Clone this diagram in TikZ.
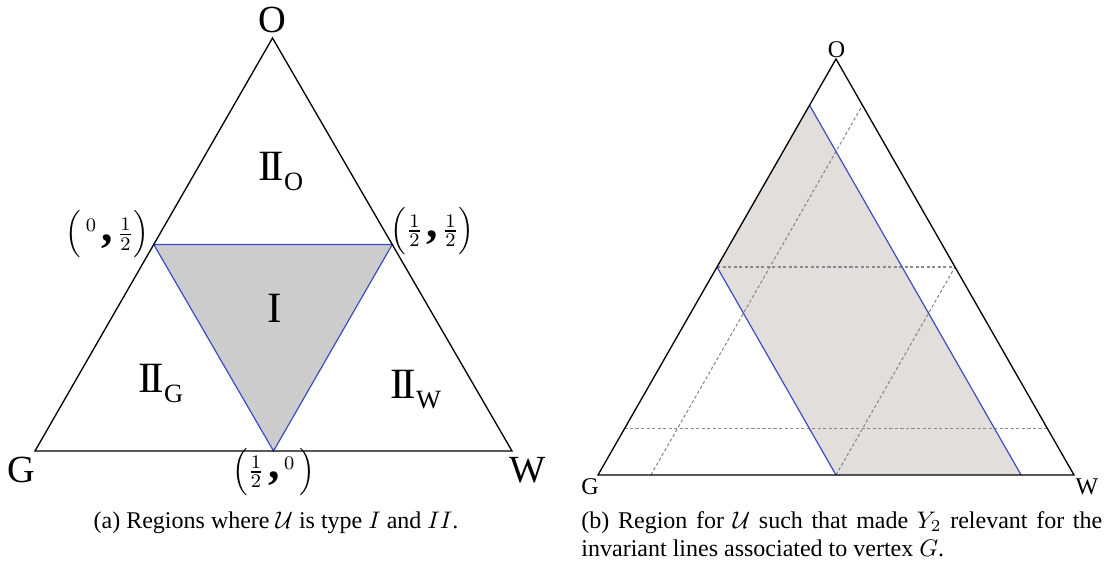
\documentclass[tikz,border=0pt]{standalone}
\usepackage{amsmath}
\usepackage{fontspec}
\setmainfont{Liberation Serif}
\usepackage{xcolor}
\definecolor{edgeblue}{HTML}{3B4CC4}
\definecolor{fillgray}{HTML}{CCCCCC}
\definecolor{fillwarm}{HTML}{E2DEDC}
\definecolor{dashgray}{HTML}{8A8A8A}
\usetikzlibrary{calc}
\tikzset{
  side/.style={line width=0.55pt},
  blueside/.style={draw=edgeblue,line width=0.5pt},
  guide/.style={dashgray,line width=0.45pt,dash pattern=on 1.3pt off 1pt},
  corner/.style={font=\fontsize{16}{16}\selectfont,inner sep=0pt},
  smallcorner/.style={font=\fontsize{10}{12}\selectfont,inner sep=0pt},
  region/.style={font=\fontsize{18}{18}\selectfont,inner sep=0pt,anchor=base west},
  pointlab/.style={font=\fontsize{11}{13}\selectfont,inner sep=0pt},
  capt/.style={font=\fontsize{10}{12}\selectfont,inner sep=0pt}
}
\newcommand\regII[1]{I\kern-.07em I\raisebox{-4.2pt}{\fontsize{11}{11}\selectfont #1}}
\newcommand\bigcomma{\mbox{\fontsize{19}{19}\selectfont\bfseries ,}}
\begin{document}
\begin{tikzpicture}[x=0.41667pt,y=-0.41667pt]
  \useasboundingbox (0,0) rectangle (1104,567);
  % (a) regions I and II
  \coordinate (aG) at (35,451);
  \coordinate (aW) at (512,451);
  \coordinate (aO) at (272.5,38);
  \coordinate (aGO) at ($(aG)!0.5!(aO)$);
  \coordinate (aOW) at ($(aW)!0.5!(aO)$);
  \coordinate (aGW) at ($(aG)!0.5!(aW)$);
  \filldraw[blueside,fill=fillgray] (aGO) -- (aOW) -- (aGW) -- cycle;
  \draw[side] (aG) -- (aW) -- (aO) -- cycle;
  \node[corner] (labaO) at (272.5,19.5) {O};
  \node[corner] (labaG) at (21,470) {G};
  \node[corner] (labaW) at (528,470) {W};
  \node[region] (regO) at (258,180) {\regII{O}};
  \node[region] (regG) at (138,392) {\regII{G}};
  \node[region] (regW) at (390,398) {\regII{W}};
  \node[region,anchor=base] (regI) at (275,322) {I};
  \node[pointlab] (ptGO) at (107.5,234.5) {$\Bigl(\,{}^{0}\,\bigcomma\,\tfrac{1}{2}\Bigr)$};
  \node[pointlab] (ptOW) at (432.5,231) {$\Bigl(\tfrac{1}{2}\,\bigcomma\,\tfrac{1}{2}\Bigr)$};
  \node[pointlab] (ptGW) at (274,472) {$\Bigl(\tfrac{1}{2}\,\bigcomma\,{}^{0}\,\Bigr)$};
  \node[capt,anchor=base] (capa) at (276,528) {(a) Regions where $\mathcal{U}$ is type $I$ and $II$.};
  % (b) region for Y2, vertex G
  \coordinate (bG) at (598,475);
  \coordinate (bW) at (1074,475);
  \coordinate (bO) at (836,59);
  \coordinate (sTop) at ($(bG)!8/9!(bO)$);
  \coordinate (sMid) at ($(bG)!1/2!(bO)$);
  \coordinate (sLeft) at ($(bG)!1/2!(bW)$);
  \coordinate (sRight) at ($(bG)!8/9!(bW)$);
  \fill[fillwarm] (sTop) -- (sRight) -- (sLeft) -- (sMid) -- cycle;
  \foreach \t in {0.11111,0.5} {
    \draw[guide] ($(bG)!\t!(bO)$) -- ($(bW)!\t!(bO)$);
    \draw[guide] ($(bG)!\t!(bW)$) -- ($(bW)!1-\t!(bO)$);
  }
  \draw[blueside] (sTop) -- (sRight);
  \draw[blueside] (sMid) -- (sLeft);
  \draw[side] (bG) -- (bW) -- (bO) -- cycle;
  \node[smallcorner] (labbO) at (836.5,50) {O};
  \node[smallcorner] (labbG) at (590,487) {G};
  \node[smallcorner] (labbW) at (1087,487) {W};
  \node[capt,anchor=base west,text width=217pt,align=justify] (capb) at (581,528)
    {(b) Region for $\mathcal{U}$ such that made $Y_2$ relevant for the invariant lines associated to vertex $G$.};
\end{tikzpicture}
\end{document}
